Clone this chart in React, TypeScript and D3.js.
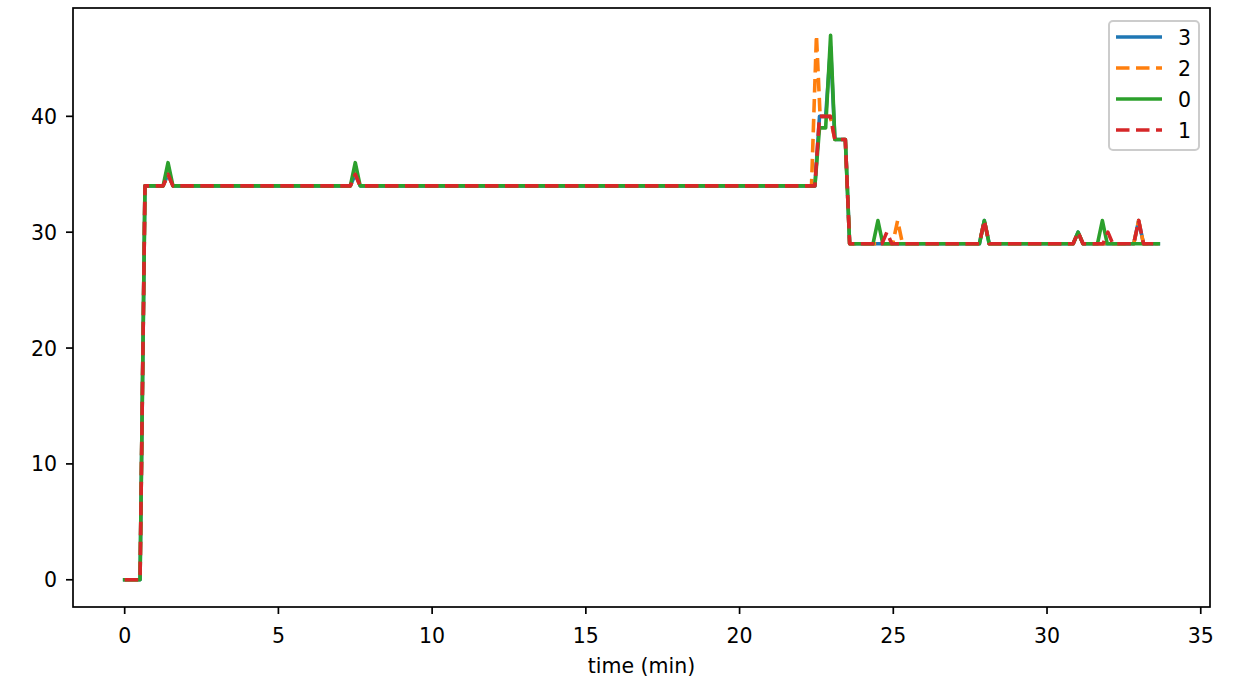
import React from "react";
import * as d3 from "d3";

// ---- data: [time (min), value] breakpoints ----
const series3: [number, number][] = [
  [0, 0], [0.5, 0], [0.66, 34], [1.25, 34], [1.41, 35], [1.57, 34], [7.34, 34], [7.5, 35], [7.66, 34],
  [22.45, 34], [22.6, 40], [22.8, 40], [22.96, 46], [23.1, 38], [23.44, 38], [23.58, 29],
  [27.8, 29], [27.96, 31], [28.12, 29], [30.85, 29], [31.01, 30], [31.17, 29],
  [32.82, 29], [32.98, 31], [33.14, 29], [33.62, 29],
];
const series2: [number, number][] = [
  [0, 0], [0.5, 0], [0.66, 34], [1.25, 34], [1.41, 35], [1.57, 34], [7.34, 34], [7.5, 35], [7.66, 34],
  [22.34, 34], [22.5, 47], [22.62, 40], [22.95, 40], [23.1, 38], [23.44, 38], [23.58, 29],
  [24.98, 29], [25.14, 31], [25.3, 29], [27.8, 29], [27.96, 31], [28.12, 29],
  [30.85, 29], [31.01, 30], [31.17, 29], [32.82, 29], [32.98, 31], [33.14, 29], [33.62, 29],
];
const series0: [number, number][] = [
  [0, 0], [0.5, 0], [0.66, 34], [1.25, 34], [1.41, 36], [1.57, 34], [7.34, 34], [7.5, 36], [7.66, 34],
  [22.45, 34], [22.6, 39], [22.8, 39], [22.96, 47], [23.1, 38], [23.44, 38], [23.58, 29],
  [24.34, 29], [24.5, 31], [24.66, 29], [27.8, 29], [27.96, 31], [28.12, 29],
  [30.85, 29], [31.01, 30], [31.17, 29], [31.64, 29], [31.8, 31], [31.96, 29], [33.62, 29],
];
const series1: [number, number][] = [
  [0, 0], [0.5, 0], [0.66, 34], [1.25, 34], [1.41, 35], [1.57, 34], [7.34, 34], [7.5, 35], [7.66, 34],
  [22.45, 34], [22.6, 40], [22.95, 40], [23.1, 38], [23.44, 38], [23.58, 29],
  [24.63, 29], [24.79, 30], [24.95, 29], [27.8, 29], [27.96, 31], [28.12, 29],
  [30.85, 29], [31.01, 30], [31.17, 29], [31.82, 29], [31.98, 30], [32.14, 29],
  [32.82, 29], [32.98, 31], [33.14, 29], [33.62, 29],
];

const seriesNames = ["3", "2", "0", "1"];
const seriesData = [series3, series2, series0, series1];
const seriesColors = ["#1f77b4", "#ff7f0e", "#2ca02c", "#d62728"];
const seriesDashed = [false, true, false, true];

const xTicks = [0, 5, 10, 15, 20, 25, 30, 35];
const yTicks = [0, 10, 20, 30, 40];
const xLabel = "time (min)";

const W = 1239;
const H = 684;
const left = 73, right = 1210, top = 8, bottom = 607;
const FONT = "DejaVu Sans, sans-serif";
const FS = 20.5;
const LW = 3.6;

export default function App() {
  const xMax = 33.62, yMax = 47;
  const x = d3.scaleLinear().domain([-0.05 * xMax, xMax * 1.05]).range([left, right]);
  const y = d3.scaleLinear().domain([-0.05 * yMax, yMax * 1.05]).range([bottom, top]);
  const line = d3.line<[number, number]>().x((d) => x(d[0])).y((d) => y(d[1]));

  const legX = 1109, legY = 21, legW = 90, legH = 129;
  const legRow = (i: number) => 37 + i * 31;

  return (
    <svg width={W} height={H} style={{ position: "absolute", left: 0, top: 0, background: "#fff" }}
      fontFamily={FONT}>
      <rect x={0} y={0} width={W} height={H} fill="#fff" />
      <defs>
        <clipPath id="plotclip">
          <rect x={left} y={top} width={right - left} height={bottom - top} />
        </clipPath>
      </defs>
      <g clipPath="url(#plotclip)">
        {seriesData.map((d, i) => (
          <path key={i} d={line(d) || ""} fill="none" stroke={seriesColors[i]} strokeWidth={LW}
            strokeDasharray={seriesDashed[i] ? "13.5,6.5" : undefined}
            strokeLinejoin="round" strokeLinecap={seriesDashed[i] ? "butt" : "square"} />
        ))}
      </g>
      {/* spines */}
      <rect x={left} y={top} width={right - left} height={bottom - top} fill="none" stroke="#000" strokeWidth={1.7} />
      {/* x ticks */}
      {xTicks.map((t) => (
        <g key={"x" + t}>
          <line x1={x(t)} x2={x(t)} y1={bottom} y2={bottom + 7} stroke="#000" strokeWidth={1.7} />
          <text x={x(t)} y={643} textAnchor="middle" fontSize={FS} fill="#000">{t}</text>
        </g>
      ))}
      {/* y ticks */}
      {yTicks.map((t) => (
        <g key={"y" + t}>
          <line x1={left - 7} x2={left} y1={y(t)} y2={y(t)} stroke="#000" strokeWidth={1.7} />
          <text x={57} y={y(t) + 7.5} textAnchor="end" fontSize={FS} fill="#000">{t}</text>
        </g>
      ))}
      <text x={(left + right) / 2} y={673} textAnchor="middle" fontSize={FS} fill="#000">{xLabel}</text>
      {/* legend */}
      <rect x={legX} y={legY} width={legW} height={legH} rx={4} ry={4} fill="#fff" fillOpacity={0.8}
        stroke="#cccccc" strokeWidth={2} />
      {seriesNames.map((n, i) => (
        <g key={"l" + n}>
          <line x1={1116} x2={1162} y1={legRow(i)} y2={legRow(i)} stroke={seriesColors[i]} strokeWidth={LW}
            strokeDasharray={seriesDashed[i] ? "13.5,6.5" : undefined} />
          <text x={1178} y={legRow(i) + 7.5} fontSize={FS} fill="#000">{n}</text>
        </g>
      ))}
    </svg>
  );
}
